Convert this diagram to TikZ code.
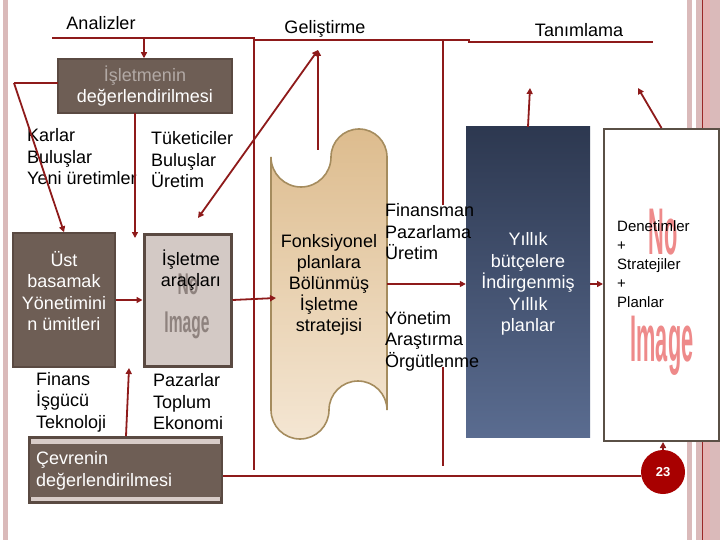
\documentclass[tikz,border=0pt]{standalone}
\usepackage{fontspec}
\setmainfont{Liberation Sans}
\usetikzlibrary{arrows.meta,calc}
\definecolor{lred}{HTML}{8E1A1A}
\definecolor{stripe}{HTML}{DABABA}
\definecolor{stripedark}{HTML}{9A2626}
\definecolor{stripemid}{HTML}{E4B2B2}
\definecolor{boxbrown}{HTML}{6E5E55}
\definecolor{bdark}{HTML}{5A4A42}
\definecolor{boxlight}{HTML}{D3C9C5}
\definecolor{cevlight}{HTML}{D8CCC8}
\definecolor{fadetxt}{HTML}{B2A9A5}
\definecolor{pztop}{HTML}{DDBC8E}
\definecolor{pzbot}{HTML}{F4E6D3}
\definecolor{pzedge}{HTML}{A58C5E}
\definecolor{bltop}{HTML}{2D3850}
\definecolor{blbot}{HTML}{5A6C90}
\definecolor{denedge}{HTML}{5A5046}
\definecolor{noimg}{HTML}{EE8A8A}
\definecolor{noimggray}{HTML}{8E827E}
\definecolor{circred}{HTML}{A80000}
\begin{document}
\begin{tikzpicture}[x=1pt,y=1pt,
  conn/.style={draw=lred, line width=1.8pt},
  arr/.style={conn, -{Triangle[length=6pt,width=6pt]}},
  txt/.style={inner sep=0pt, font=\fontsize{18}{21.5}\selectfont, align=left},
  ctxt/.style={inner sep=0pt, font=\fontsize{18}{21.5}\selectfont, align=center},
  brownbox/.style={draw=bdark, line width=1.5pt, fill=boxbrown, inner sep=0pt},
  noimgtxt/.style={inner sep=0pt, xscale=0.33, font=\bfseries\fontsize{66}{66}\selectfont, text=noimg},
  noimgsmall/.style={inner sep=0pt, xscale=0.52, font=\bfseries\fontsize{30}{30}\selectfont, text=noimggray},
]
\useasboundingbox (0,0) rectangle (720,-540);
\fill[white] (0,0) rectangle (720,-540);
% side stripes
\fill[stripe] (3,0) rectangle (8,-540);
\fill[stripe] (687,0) rectangle (692,-540);
\fill[stripe] (696,0) rectangle (720,-540);
\fill[stripemid] (703,0) rectangle (710,-540);
\fill[stripedark] (702,0) rectangle (703.3,-540);

% top headings
\node[inner sep=0pt, font=\fontsize{18}{21.5}\selectfont] (analiz) at (101,-23) {Analizler};
\node[inner sep=0pt, font=\fontsize{18}{21.5}\selectfont] (gelis) at (325,-29) {Geliştirme};
\node[inner sep=0pt, font=\fontsize{18}{21.5}\selectfont] (tanim) at (579,-30) {Tanımlama};

% heading lines
\draw[conn] (52,-38) -- (255,-38);
\draw[conn] (253,-40) -- (470,-40);
\draw[conn] (468,-42) -- (653,-42);
% long verticals
\draw[conn] (254,-38) -- (254,-470);
\draw[conn] (443,-41) -- (443,-205);
\draw[conn] (443,-367) -- (443,-466);
% bottom line
\coordinate (bl) at (223,-476);

% boxes
\node[brownbox, minimum width=174pt, minimum height=54pt, align=center, text=white,
      font=\fontsize{18}{21.5}\selectfont] (isl) at (145,-86)
      {{\color{fadetxt}İşletmenin}\\değerlendirilmesi};
\node[brownbox, minimum width=102pt, minimum height=134pt] (ust) at (64,-300) {};
\node[draw=bdark, line width=3pt, fill=boxlight, minimum width=87pt, minimum height=132pt, inner sep=0pt] (isa) at (187.5,-300) {};
\node[draw=bdark, line width=3pt, fill=cevlight, minimum width=192pt, minimum height=65pt, inner sep=0pt] (cev) at (125.5,-470) {};
\fill[boxbrown] (30,-444) rectangle (221,-497);

% puzzle piece
\path[draw=pzedge, line width=1.6pt, top color=pztop, bottom color=pzbot]
  (271,-157) -- (271,-410)
  arc[start angle=180, end angle=360, radius=29pt]
  arc[start angle=180, end angle=0, radius=29pt]
  -- (387,-157)
  arc[start angle=0, end angle=180, radius=28pt]
  arc[start angle=0, end angle=-180, radius=30pt]
  -- cycle;
\coordinate (pzL) at (276,-298);
\coordinate (pzR) at (387,-284);
\coordinate (pzT) at (318,-150);

% blue box
\node[inner sep=0pt, minimum width=124pt, minimum height=310pt, top color=bltop, bottom color=blbot] (blue) at (528,-282) {};
% right box
\node[draw=denedge, line width=2pt, fill=white, minimum width=115pt, minimum height=312pt, inner sep=0pt] (den) at (661.5,-285) {};
% page number circle
\node[circle, fill=circred, minimum size=44pt, inner sep=0pt, text=white,
      font=\bfseries\fontsize{13}{13}\selectfont] (circ) at (663,-472) {23};

% No Image placeholders
\node[noimgsmall] (noA) at (188,-284) {No};
\node[noimgsmall] (imA) at (187,-325) {Image};
\node[noimgtxt] (noB) at (663,-232) {No};
\node[noimgtxt] (imB) at (662,-346) {Image};

% texts
\node[txt, anchor=west] (karlar) at (27,-157) {Karlar\\Buluşlar\\Yeni üretimler};
\node[txt, anchor=west] (tuk) at (151,-160) {Tüketiciler\\Buluşlar\\Üretim};
\node[ctxt, text=white] (usttxt) at (64,-291) {Üst\\basamak\\Yönetimini\\n ümitleri};
\node[ctxt] (isatxt) at (191,-270) {İşletme\\araçları};
\node[txt, anchor=west] (finans) at (36,-402) {Finans\\İşgücü\\Teknoloji};
\node[txt, anchor=west] (pazar) at (153,-402) {Pazarlar\\Toplum\\Ekonomi};
\node[txt, anchor=west, text=white] (cevtxt) at (36,-471) {Çevrenin\\değerlendirilmesi};
\node[ctxt, font=\fontsize{18}{21}\selectfont] (fonk) at (329,-285) {Fonksiyonel\\planlara\\Bölünmüş\\İşletme\\stratejisi};
\node[txt, anchor=west] (finsm) at (385,-232) {Finansman\\Pazarlama\\Üretim};
\node[txt, anchor=west] (yonet) at (385,-341) {Yönetim\\Araştırma\\Örgütlenme};
\node[ctxt, text=white] (yillik) at (528,-284) {Yıllık\\bütçelere\\İndirgenmiş\\Yıllık\\planlar};
\node[inner sep=0pt, anchor=west, align=left, font=\fontsize{15}{19}\selectfont] (dentxt) at (617,-264)
  {Denetimler\\+\\Stratejiler\\+\\Planlar};

% connectors
\coordinate (ana) at (144,-38);
\coordinate (lk) at (14,-83);
\coordinate (iw) at (58,-83);
\coordinate (isb) at (135,-113);
\coordinate (ist) at (135,-238);
\coordinate (dgA) at (198,-218);
\coordinate (dgB) at (318,-50);
\coordinate (cevT) at (126,-436);
\coordinate (gapB) at (129,-368);
\coordinate (tanA) at (530,-88);
\coordinate (tanB) at (638,-88);

\draw[arr] (ana) -- (isl.north -| ana);
\draw[conn] (iw) -- (lk);
\draw[arr] (lk) -- (ust.north);
\draw[arr] (isb) -- (ist);
\draw[conn, {Triangle[length=6pt,width=6pt]}-{Triangle[length=6pt,width=6pt]}] (dgA) -- (dgB);
\draw[arr] (pzT) -- (dgB);
\draw[arr] (ust.east) -- (isa.west);
\draw[arr] (isa.east) -- (pzL);
\draw[arr] (cevT) -- (gapB);
\draw[arr] (pzR) -- (pzR -| blue.west);
\draw[arr] (blue.east |- pzR) -- (den.west |- pzR);
\draw[arr] (blue.north) -- (tanA);
\draw[arr] (den.north) -- (tanB);
\draw[arr] (circ.north) -- (circ.north |- den.south);
\draw[conn] (bl) -- (bl -| circ.west);
\end{tikzpicture}
\end{document}
